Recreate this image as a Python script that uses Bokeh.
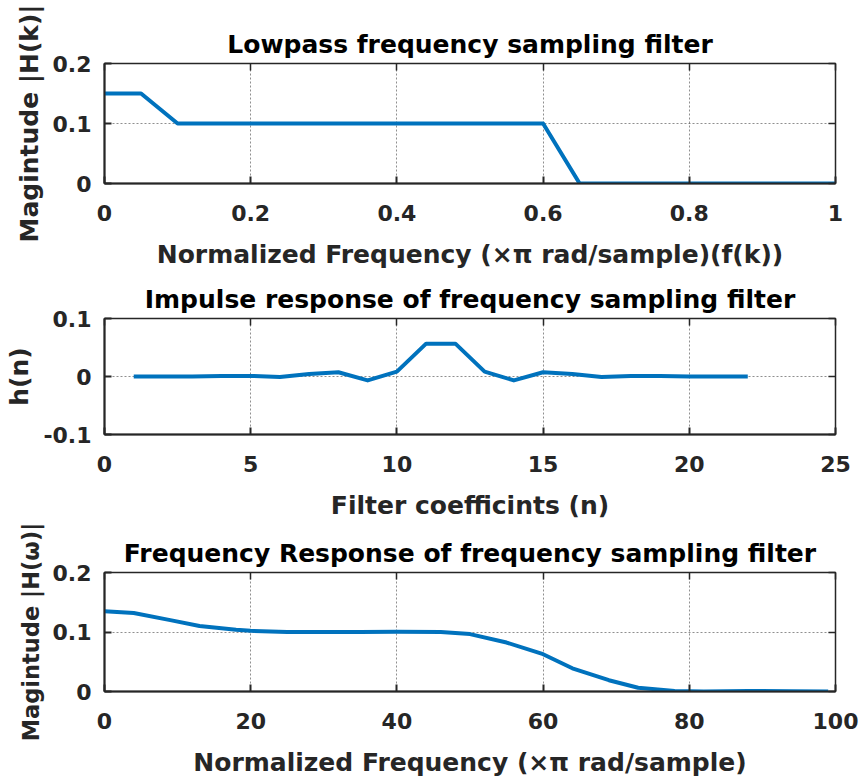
from bokeh.plotting import figure
from bokeh.layouts import column
from bokeh.models import LinearAxis, FixedTicker, CustomJSTickFormatter, Range1d
from bokeh.embed import file_html
from bokeh.resources import INLINE

# ---- data ----
f_k = [0.0, 0.05, 0.1, 0.15, 0.2, 0.25, 0.3, 0.35, 0.4, 0.45, 0.5,
       0.55, 0.6, 0.65, 0.7, 0.75, 0.8, 0.85, 0.9, 0.95, 1.0]
H_k = [0.15, 0.15, 0.1, 0.1, 0.1, 0.1, 0.1, 0.1, 0.1, 0.1, 0.1,
       0.1, 0.1, 0.0, 0.0, 0.0, 0.0, 0.0, 0.0, 0.0, 0.0]

n_idx = list(range(1, 23))
h_n = [0.0, 0.0, 0.0002, 0.001, 0.001, -0.0008, 0.0045, 0.0073, -0.0067, 0.0084, 0.0566,
       0.0566, 0.0084, -0.0067, 0.0073, 0.0045, -0.0008, 0.001, 0.001, 0.0002, 0.0, 0.0]

w_idx = [0, 4, 9, 13, 18, 20, 25, 30, 35, 40, 46, 50, 55, 60, 64, 69, 73, 78, 82, 88, 94, 99]
H_w = [0.135, 0.132, 0.120, 0.110, 0.1037, 0.102, 0.1, 0.1, 0.1, 0.1005, 0.1, 0.0965,
       0.0823, 0.0627, 0.039, 0.019, 0.0064, 0.001, 0.0002, 0.001, 0.0003, 0.0]

titles = ["Lowpass frequency sampling filter",
          "Impulse response of frequency sampling filter",
          "Frequency Response of frequency sampling filter"]
xlabels = ["Normalized Frequency (\u00d7\u03c0 rad/sample)(f(k))",
           "Filter coefficints (n)",
           "Normalized Frequency (\u00d7\u03c0 rad/sample)"]
ylabels = ["Magintude |H(k)|", "h(n)", "Magintude |H(\u03c9)|"]
xticks = [[0, 0.2, 0.4, 0.6, 0.8, 1], [0, 5, 10, 15, 20, 25], [0, 20, 40, 60, 80, 100]]
yticks = [[0, 0.1, 0.2], [-0.1, 0, 0.1], [0, 0.1, 0.2]]
xranges = [(0, 1), (0, 25), (0, 100)]
yranges = [(0, 0.2), (-0.1, 0.1), (0, 0.2)]

FONT = "DejaVu Sans"
AX = "#262626"
BLUE = "#0072BD"

heights = [275, 247, 260]
tops = [63, 43, 50]
bottoms = [92, 85, 91]
ylabel_sizes = ["25px", "25px", "22.5px"]

YFMT = "if (Math.abs(tick) < 1e-9) { return '0'; } return tick.toFixed(1);"


def make(i, xs, ys):
    p = figure(width=860, height=heights[i], output_backend="svg", toolbar_location=None,
               x_range=Range1d(*xranges[i]), y_range=Range1d(*yranges[i]),
               min_border_left=104, min_border_right=25,
               min_border_top=tops[i], min_border_bottom=bottoms[i],
               title=titles[i])
    p.title.text_font = FONT
    p.title.text_font_style = "bold"
    p.title.text_font_size = "25px"
    p.title.text_color = "#000000"
    p.title.align = "center"
    p.title.standoff = 9
    p.background_fill_color = "white"
    p.border_fill_color = "white"
    p.outline_line_color = AX
    p.outline_line_width = 1.5

    p.xaxis.ticker = FixedTicker(ticks=xticks[i])
    p.yaxis.ticker = FixedTicker(ticks=yticks[i])
    p.yaxis.formatter = CustomJSTickFormatter(code=YFMT)
    p.xaxis.axis_label = xlabels[i]
    p.yaxis.axis_label = ylabels[i]
    for ax in (p.xaxis[0], p.yaxis[0]):
        ax.major_label_text_font = FONT
        ax.major_label_text_font_style = "bold"
        ax.major_label_text_font_size = "22px"
        ax.major_label_text_color = AX
        ax.axis_label_text_font = FONT
        ax.axis_label_text_font_style = "bold"
        ax.axis_label_text_font_size = "25px"
        ax.axis_label_text_color = AX
        ax.axis_line_color = AX
        ax.axis_line_width = 2
        ax.major_tick_in = 7
        ax.major_tick_out = 0
        ax.major_tick_line_color = AX
        ax.major_tick_line_width = 2
        ax.minor_tick_line_color = None
    p.yaxis.axis_label_text_font_size = ylabel_sizes[i]
    p.xaxis.major_label_standoff = 21
    p.xaxis.axis_label_standoff = 16
    p.yaxis.major_label_standoff = 13
    p.yaxis.axis_label_standoff = 6

    # box ticks on top and right
    for side, tk in (("above", xticks[i]), ("right", yticks[i])):
        ax = LinearAxis(ticker=FixedTicker(ticks=tk),
                        formatter=CustomJSTickFormatter(code="return ''"),
                        major_tick_in=7, major_tick_out=0, major_label_standoff=0,
                        axis_line_color=None, major_tick_line_color=AX,
                        major_tick_line_width=1.5, minor_tick_line_color=None)
        p.add_layout(ax, side)

    p.grid.grid_line_color = "#333333"
    p.grid.grid_line_alpha = 0.55
    p.grid.grid_line_dash = "2 2"
    p.grid.grid_line_width = 1

    p.line(xs, ys, line_color=BLUE, line_width=4, line_join="round")
    return p


p1 = make(0, f_k, H_k)
p2 = make(1, n_idx, h_n)
p3 = make(2, w_idx, H_w)

layout = column(p1, p2, p3, spacing=0)
open("out.html", "w").write(file_html(layout, INLINE))
